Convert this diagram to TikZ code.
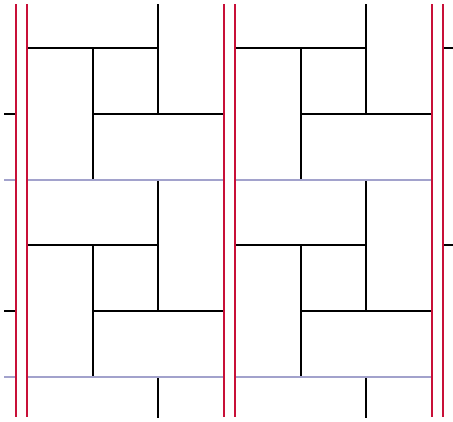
\documentclass[tikz,border=0pt]{standalone}
\usepackage{xcolor}
\usepackage{tikz}
\definecolor{railred}{RGB}{200,16,56}
\definecolor{seamblue}{RGB}{162,162,204}

\begin{document}
\begin{tikzpicture}[
  x=1pt, y=-1pt,
  wall/.style={line width=2.4pt, black},
  seam/.style={line width=2.6pt, seamblue},
  rail/.style={line width=2.6pt, railred}
]
\useasboundingbox (0,0) rectangle (453,421);
\begin{scope}
\clip (4,4) rectangle (453,417);
\foreach \i in {-1,0,1,2} {
  \foreach \j in {0,1,2} {
    \pgfmathsetmacro{\ox}{27+208*\i}
    \pgfmathsetmacro{\oy}{-17+197*\j}
    \draw[wall] (\ox+131,\oy) -- (\ox+131,\oy+131);
    \draw[wall] (\ox,\oy+65) -- (\ox+131,\oy+65);
    \draw[wall] (\ox+66,\oy+65) -- (\ox+66,\oy+197);
    \draw[wall] (\ox+66,\oy+131) -- (\ox+197,\oy+131);
  }
}
\foreach \i in {-1,0,1} {
  \foreach \j in {0,1} {
    \pgfmathsetmacro{\ox}{27+208*\i}
    \pgfmathsetmacro{\oy}{-17+197*\j}
    \draw[seam] (\ox,\oy+197) -- (\ox+197,\oy+197);
  }
}
\end{scope}
\foreach \x in {16,27,224,235,432,443}
  \draw[rail] (\x,4) -- (\x,417);
\end{tikzpicture}
\end{document}
